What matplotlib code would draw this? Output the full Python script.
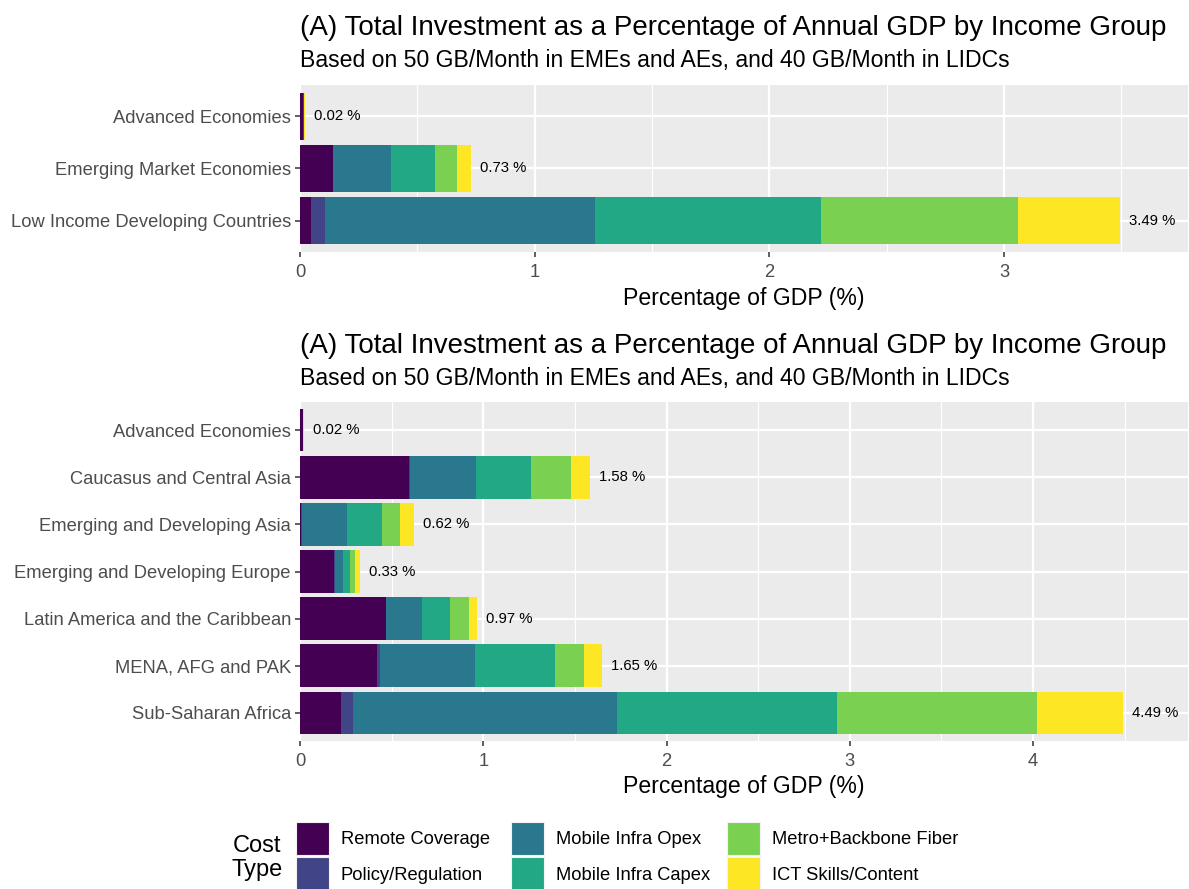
import numpy as np
import matplotlib
matplotlib.use("Agg")
import matplotlib.pyplot as plt
from matplotlib.patches import Rectangle
from matplotlib.ticker import MultipleLocator

plt.rcParams['font.family'] = ['Liberation Sans', 'DejaVu Sans']

cost_types = ["Remote Coverage", "Policy/Regulation", "Mobile Infra Opex",
              "Mobile Infra Capex", "Metro+Backbone Fiber", "ICT Skills/Content"]
colors = ["#440154", "#414487", "#2A788E", "#22A884", "#7AD151", "#FDE725"]

# panel 1: income groups
income_groups = ["Advanced Economies", "Emerging Market Economies",
                 "Low Income Developing Countries"]
inc_remote = [0.014, 0.139, 0.045]
inc_policy = [0.001, 0.003, 0.061]
inc_opex = [0.001, 0.244, 1.153]
inc_capex = [0.001, 0.189, 0.960]
inc_fiber = [0.001, 0.096, 0.842]
inc_ict = [0.002, 0.059, 0.432]

# panel 2: regions
regions = ["Advanced Economies", "Caucasus and Central Asia",
           "Emerging and Developing Asia", "Emerging and Developing Europe",
           "Latin America and the Caribbean", "MENA, AFG and PAK",
           "Sub-Saharan Africa"]
reg_remote = [0.014, 0.595, 0.006, 0.187, 0.467, 0.422, 0.222]
reg_policy = [0.001, 0.005, 0.003, 0.003, 0.003, 0.015, 0.065]
reg_opex = [0.001, 0.360, 0.245, 0.047, 0.193, 0.518, 1.442]
reg_capex = [0.001, 0.300, 0.196, 0.036, 0.155, 0.435, 1.200]
reg_fiber = [0.001, 0.220, 0.095, 0.029, 0.102, 0.160, 1.091]
reg_ict = [0.002, 0.100, 0.075, 0.024, 0.047, 0.100, 0.469]

title = "(A) Total Investment as a Percentage of Annual GDP by Income Group"
subtitle = "Based on 50 GB/Month in EMEs and AEs, and 40 GB/Month in LIDCs"

W, H = 1189, 889
fig = plt.figure(figsize=(W / 100, H / 100), dpi=100)


def fx(px):
    return px / W


def fy(py):
    return 1 - py / H


def draw_panel(ax, cats, parts, xmax, top_px, bottom_px):
    y = np.arange(len(cats))
    left = np.zeros(len(cats))
    for name, vals, col in zip(cost_types, parts, colors):
        ax.barh(y, vals, left=left, height=0.9, color=col, label=name,
                linewidth=0, zorder=3)
        left += np.array(vals)
    for yi, tot in zip(y, left):
        ax.annotate(f"{tot:.2f} %", (tot, yi), xytext=(6.5, 0),
                    textcoords="offset points", va="center", ha="left",
                    fontsize=10.7, color="black", zorder=4)
    ax.set_facecolor("#EBEBEB")
    ax.set_xlim(0, xmax)
    ax.set_ylim(len(cats) - 0.4, -0.6)
    ax.set_yticks(y)
    ax.set_yticklabels(cats)
    ax.xaxis.set_major_locator(MultipleLocator(1))
    ax.xaxis.set_minor_locator(MultipleLocator(0.5))
    ax.grid(True, which="major", color="white", linewidth=1.6, zorder=0)
    ax.grid(True, which="minor", axis="x", color="white", linewidth=0.8, zorder=0)
    ax.set_axisbelow(True)
    for s in ax.spines.values():
        s.set_visible(False)
    ax.tick_params(axis="both", which="major", length=3.5, width=1.1,
                   color="#333333", labelcolor="#4D4D4D", labelsize=13.2, pad=3)
    ax.tick_params(axis="x", which="minor", length=0)
    ax.tick_params(axis="x", which="major", pad=5)
    # titles and axis label
    fig.text(fx(300), fy(top_px - 50), title, fontsize=20, va="baseline", ha="left")
    fig.text(fx(300), fy(top_px - 18), subtitle, fontsize=16.6, va="baseline", ha="left")
    fig.text(fx(744), fy(bottom_px + 52.5), "Percentage of GDP (%)", fontsize=16.6,
             va="baseline", ha="center")


ax1 = fig.add_axes([fx(300), fy(252), fx(888), 167 / H])
draw_panel(ax1, income_groups,
           [inc_remote, inc_policy, inc_opex, inc_capex, inc_fiber, inc_ict],
           3.784, 85, 252)

ax2 = fig.add_axes([fx(300), fy(741), fx(888), 339 / H])
draw_panel(ax2, regions,
           [reg_remote, reg_policy, reg_opex, reg_capex, reg_fiber, reg_ict],
           4.845, 403, 741)

# legend: 3 columns x 2 rows, filled column-wise
key_x = [296, 511, 727]
key_y = [822, 857]
key_size = 33
for i, (name, col) in enumerate(zip(cost_types, colors)):
    c, r = divmod(i, 2)
    x0, y0 = key_x[c], key_y[r]
    fig.add_artist(Rectangle((fx(x0), fy(y0 + key_size)), fx(key_size), key_size / H,
                             transform=fig.transFigure, facecolor=col,
                             edgecolor="#F2F2F2", linewidth=0.8))
    fig.text(fx(x0 + key_size + 12), fy(y0 + key_size / 2 + 1.5), name,
             fontsize=13.2, ha="left", va="center")
fig.text(fx(257), fy(858), "Cost\nType", fontsize=17, ha="center", va="center",
         linespacing=1.1)

fig.savefig("out.png", dpi=100)
